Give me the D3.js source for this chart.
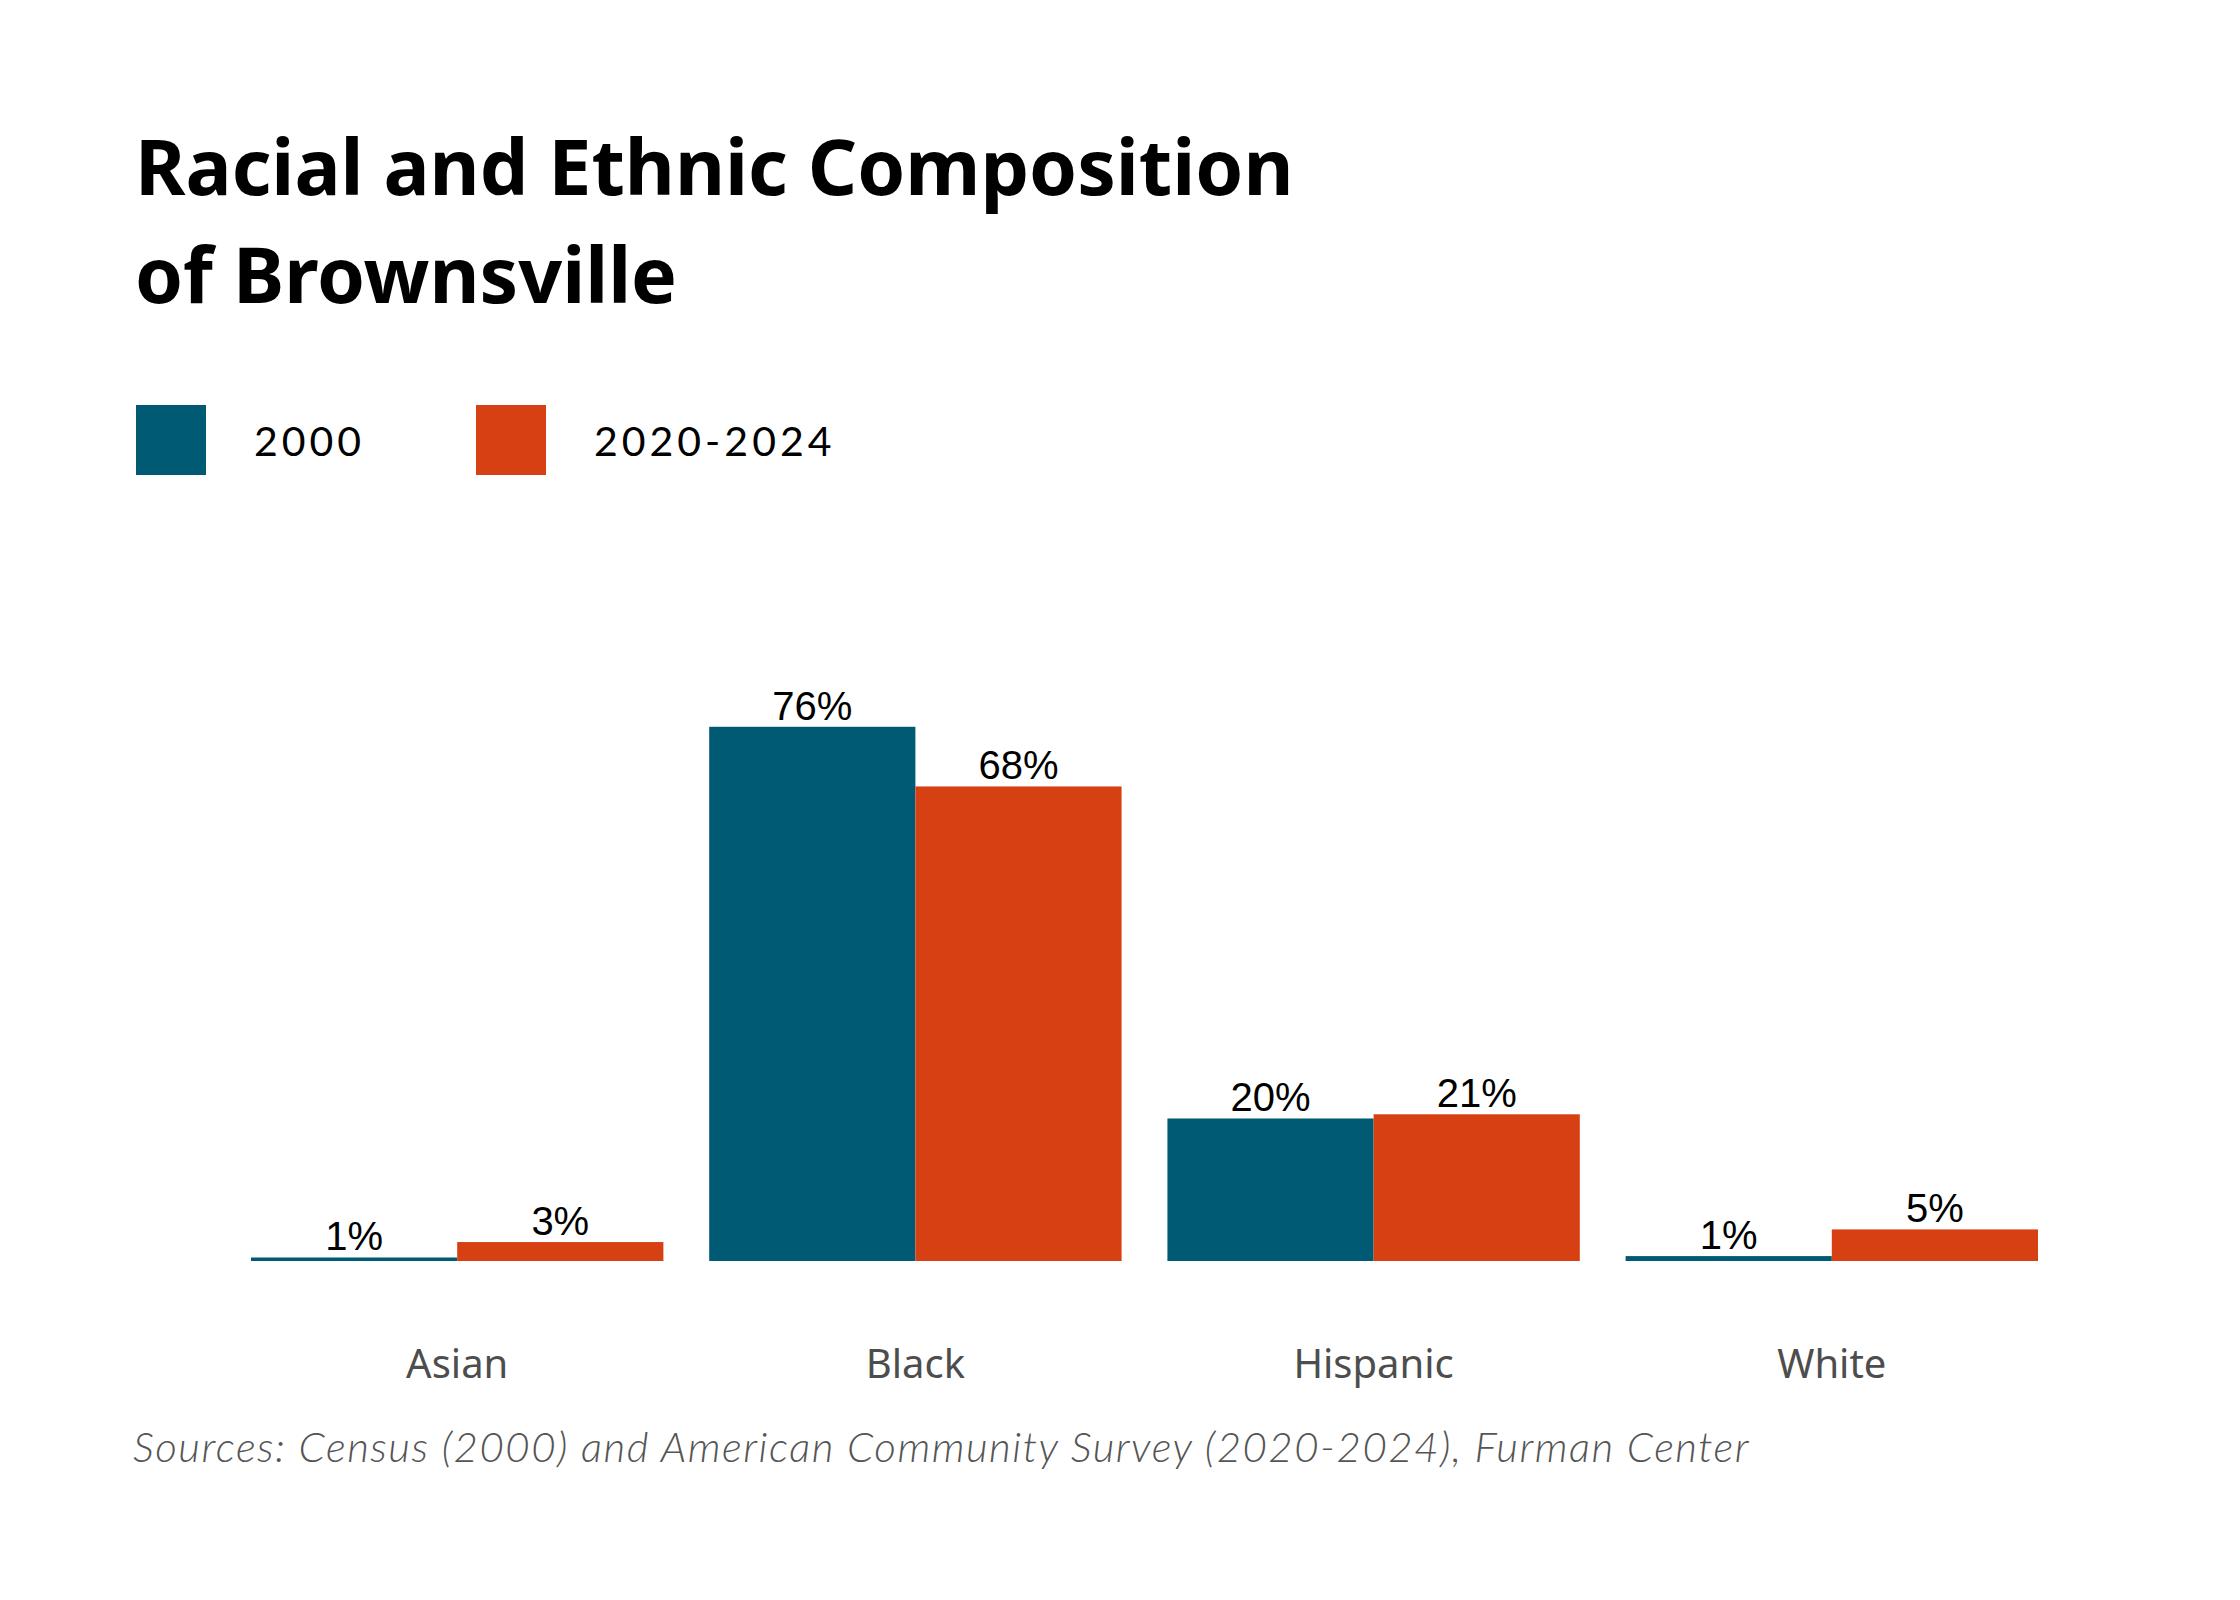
<!DOCTYPE html>
<html>
<head>
<meta charset="utf-8">
<script src="https://cdn.jsdelivr.net/npm/d3@7"></script>
<style>
  html, body { margin: 0; padding: 0; background: #fff; }
  svg { display: block; }
</style>
</head>
<body>
<svg id="chart"></svg>
<script>
// data
var categories = ["Asian", "Black", "Hispanic", "White"]
var seriesNames = ["2000", "2020-2024"]
var values2000 = [0.5, 76.1, 20.3, 0.7]
var values2020 = [2.7, 67.6, 20.9, 4.5]
var colors = ["#015a73", "#d64013"]

var width = 2240
var height = 1600

var svg = d3.select("#chart")
  .attr("width", width)
  .attr("height", height)

svg.append("rect")
  .attr("width", width)
  .attr("height", height)
  .attr("fill", "#fff")

// title
var title = svg.append("text")
  .attr("x", 135)
  .attr("y", 195)
  .style("font-family", "'Noto Sans', 'Open Sans', sans-serif")
  .style("font-weight", 700)
  .style("font-size", "77px")
  .attr("fill", "#000")
title.append("tspan").attr("x", 135).text("Racial and Ethnic Composition")
title.append("tspan").attr("x", 135).attr("dy", 108).text("of Brownsville")

// legend
var legend = svg.append("g")
  .selectAll("g")
  .data(seriesNames)
  .enter()
  .append("g")
  .attr("transform", function(d, i) { return "translate(" + [136, 476][i] + ",405)" })

legend.append("rect")
  .attr("width", 70)
  .attr("height", 70)
  .attr("fill", function(d, i) { return colors[i] })

legend.append("text")
  .attr("x", 118)
  .attr("y", 51)
  .style("font-family", "Lato, 'Noto Sans', sans-serif")
  .style("font-size", "41px")
  .style("letter-spacing", "4px")
  .attr("fill", "#000")
  .text(function(d) { return d })

// scales
var x0 = d3.scaleBand()
  .domain(categories)
  .range([251, 2038])
  .paddingInner(0.1)

var x1 = d3.scaleBand()
  .domain(seriesNames)
  .range([0, x0.bandwidth()])

var y = d3.scaleLinear()
  .domain([0, 100])
  .range([1261, 559])

var rows = categories.map(function(c, i) {
  return { cat: c, vals: [
    { s: seriesNames[0], v: values2000[i], k: 0 },
    { s: seriesNames[1], v: values2020[i], k: 1 }
  ] }
})

var groups = svg.append("g")
  .selectAll("g")
  .data(rows)
  .enter()
  .append("g")
  .attr("transform", function(d) { return "translate(" + x0(d.cat) + ",0)" })

groups.selectAll("rect")
  .data(function(d) { return d.vals })
  .enter()
  .append("rect")
  .attr("x", function(d) { return x1(d.s) })
  .attr("y", function(d) { return y(d.v) })
  .attr("width", x1.bandwidth())
  .attr("height", function(d) { return y(0) - y(d.v) })
  .attr("fill", function(d) { return colors[d.k] })

groups.selectAll("text")
  .data(function(d) { return d.vals })
  .enter()
  .append("text")
  .attr("x", function(d) { return x1(d.s) + x1.bandwidth() / 2 })
  .attr("y", function(d) { return y(d.v) - 7 })
  .attr("text-anchor", "middle")
  .style("font-family", "'Liberation Sans', Arial, sans-serif")
  .style("font-size", "40px")
  .attr("fill", "#000")
  .text(function(d) { return d3.format(".0f")(d.v) + "%" })

// category axis
var axis = svg.append("g")
  .attr("transform", "translate(0," + y(0) + ")")
  .call(d3.axisBottom(x0).tickSize(0))

axis.select(".domain").remove()
axis.selectAll("text")
  .attr("y", 117)
  .attr("dy", null)
  .style("font-family", "'Noto Sans', 'Open Sans', sans-serif")
  .style("font-size", "40px")
  .attr("fill", "#4d4d4d")

// source note
svg.append("text")
  .attr("x", 133)
  .attr("y", 1462)
  .style("font-family", "Lato, 'Noto Sans', sans-serif")
  .style("font-style", "italic")
  .style("font-weight", 300)
  .style("font-size", "42px")
  .style("letter-spacing", "1.5px")
  .attr("fill", "#555")
  .text("Sources: Census (2000) and American Community Survey (2020-2024), Furman Center")
</script>
</body>
</html>
